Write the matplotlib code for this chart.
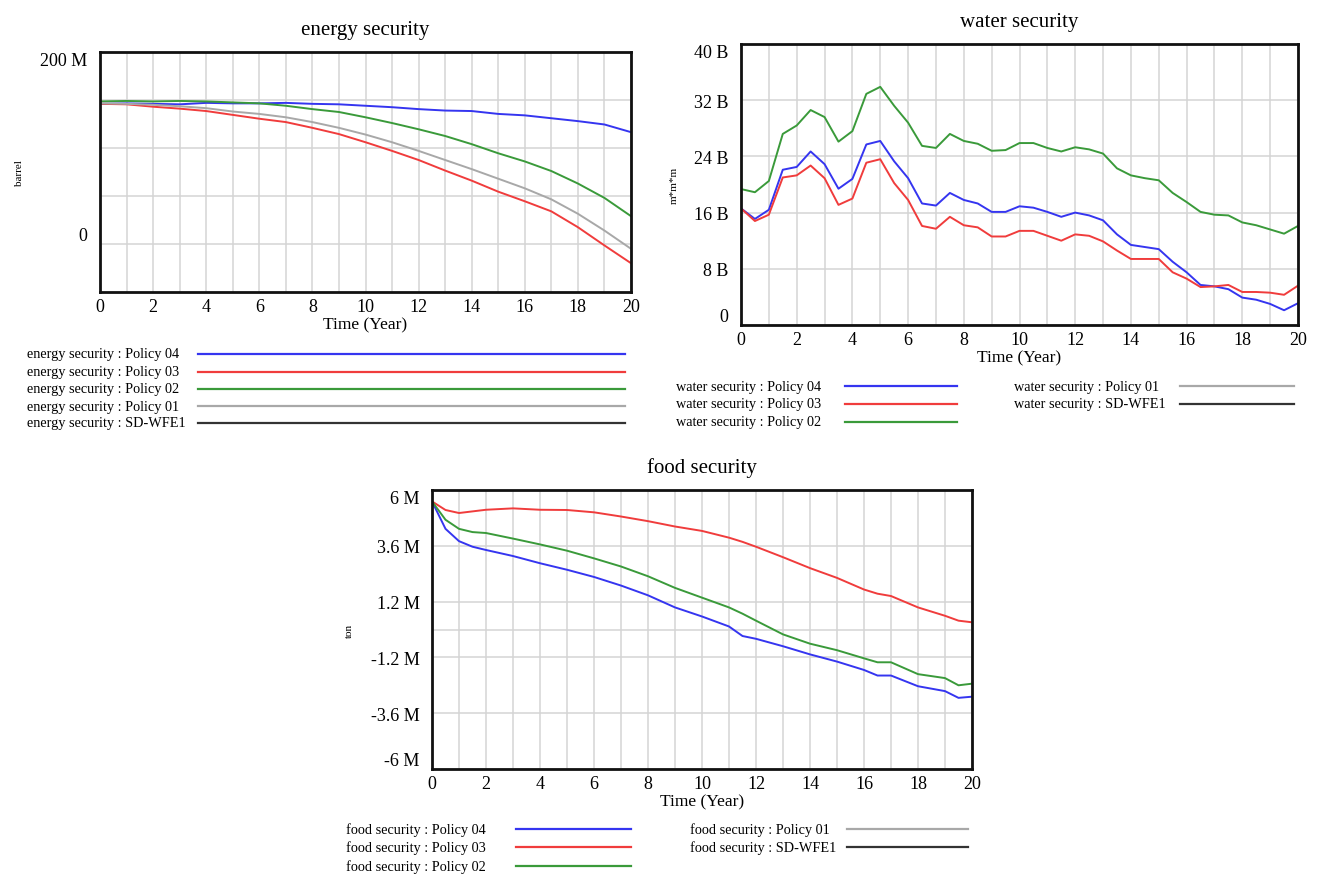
import matplotlib
matplotlib.use("Agg")
import matplotlib.pyplot as plt
from matplotlib.lines import Line2D

plt.rcParams["font.family"] = ["Liberation Serif", "DejaVu Serif"]

W, H = 1318, 878

# ---- data ----
years = list(range(21))

energy_p04 = [146, 146.5, 146, 145.5, 147, 146.5, 146.5, 147, 146, 145.5, 144,
              142.5, 140.5, 139, 138.5, 135.5, 134, 131, 128, 124.5, 116.5]
energy_p03 = [146, 145.5, 143, 141, 138.5, 134.5, 130.5, 127, 121, 114.5, 106,
              97, 87.5, 76.5, 66, 54.5, 44.5, 34, 17.5, -1.5, -20]
energy_p02 = [148.5, 149, 148.5, 149, 148.5, 147.5, 146.5, 144, 140.5, 137.5, 132,
              126, 119.5, 112.5, 104, 94.5, 86, 76, 63, 48, 29]
energy_p01 = [146.5, 146, 145, 143.5, 141.5, 138, 135.5, 132, 127, 121, 114,
              106, 97, 87.5, 78, 68, 58, 46.5, 31.5, 14, -5]

water_x = [i * 0.5 for i in range(41)]
water_p04 = [16.6, 15.1, 16.4, 22.1, 22.5, 24.7, 22.9, 19.4, 20.8, 25.7, 26.2,
             23.3, 20.9, 17.3, 17.0, 18.8, 17.8, 17.3, 16.1, 16.1, 16.9,
             16.7, 16.1, 15.4, 16.0, 15.6, 14.9, 12.9, 11.4, 11.1, 10.8,
             9.0, 7.5, 5.7, 5.5, 5.1, 3.9, 3.6, 3.0, 2.1, 3.1]
water_p03 = [16.6, 14.8, 15.7, 21.0, 21.3, 22.7, 20.9, 17.1, 18.0, 23.1, 23.6,
             20.2, 17.8, 14.1, 13.7, 15.4, 14.2, 13.9, 12.6, 12.6, 13.4,
             13.4, 12.7, 12.0, 12.9, 12.7, 11.9, 10.6, 9.4, 9.4, 9.4,
             7.5, 6.6, 5.4, 5.5, 5.7, 4.7, 4.7, 4.6, 4.3, 5.6]
water_p02 = [19.35, 18.9, 20.5, 27.2, 28.4, 30.6, 29.6, 26.1, 27.6, 32.9, 33.9,
             31.2, 28.8, 25.5, 25.2, 27.2, 26.2, 25.8, 24.8, 24.9, 25.9,
             25.9, 25.2, 24.7, 25.3, 25.0, 24.4, 22.3, 21.3, 20.9, 20.6,
             18.8, 17.5, 16.1, 15.7, 15.6, 14.6, 14.2, 13.6, 13.0, 14.1]

food_x = [0, 0.5, 1, 1.5, 2, 3, 4, 5, 6, 7, 8, 9, 10, 11, 11.5, 12, 13, 14, 15,
          16, 16.5, 17, 18, 19, 19.5, 20]
food_p04 = [5.51, 4.33, 3.80, 3.56, 3.42, 3.16, 2.85, 2.57, 2.26, 1.89, 1.47, 0.95,
            0.56, 0.13, -0.28, -0.40, -0.72, -1.07, -1.38, -1.74, -1.98, -1.98,
            -2.44, -2.65, -2.94, -2.89]
food_p03 = [5.51, 5.14, 5.01, 5.08, 5.15, 5.21, 5.15, 5.14, 5.04, 4.86, 4.66, 4.43,
            4.24, 3.95, 3.77, 3.56, 3.11, 2.64, 2.22, 1.72, 1.54, 1.44,
            0.95, 0.59, 0.38, 0.31]
food_p02 = [5.51, 4.72, 4.33, 4.19, 4.15, 3.91, 3.66, 3.39, 3.06, 2.71, 2.29, 1.79,
            1.37, 0.95, 0.68, 0.38, -0.21, -0.61, -0.89, -1.24, -1.41, -1.41,
            -1.92, -2.09, -2.40, -2.33]

series_names = ["Policy 04", "Policy 03", "Policy 02", "Policy 01", "SD-WFE1"]
colors = ["#3535f0", "#f03c3c", "#3a9a3a", "#a8a8a8", "#333333"]

energy_yticks = [0, 50, 100, 150, 200]
energy_ylabels = ["0", "", "", "", "200 M"]
water_yticks = [0, 8, 16, 24, 32, 40]
water_ylabels = ["0", "8 B", "16 B", "24 B", "32 B", "40 B"]
food_yticks = [-6, -3.6, -1.2, 0, 1.2, 3.6, 6]
food_ylabels = ["-6 M", "-3.6 M", "-1.2 M", "", "1.2 M", "3.6 M", "6 M"]


def px_axes(fig, left, top, right, bottom):
    return fig.add_axes([left / W, 1 - bottom / H, (right - left) / W, (bottom - top) / H])


def style(ax, ylim, yticks, ylabels, ylabel, ylpad):
    ax.set_xlim(0, 20)
    ax.set_ylim(*ylim)
    ax.set_xticks(years)
    ax.set_xticklabels([str(y) if y % 2 == 0 else "" for y in years], fontsize=13)
    ax.set_yticks(yticks)
    ax.set_yticklabels(ylabels, fontsize=13)
    ax.tick_params(axis="x", length=0, pad=4)
    ax.tick_params(axis="y", length=0, pad=9)
    ax.grid(True, color="#d4d4d4", linewidth=1.1)
    ax.set_axisbelow(True)
    for s in ax.spines.values():
        s.set_linewidth(2)
        s.set_color("#111111")
    labs = ax.get_yticklabels()
    labs[0].set_va("bottom")
    labs[-1].set_va("top")
    ax.set_xlabel("Time (Year)", fontsize=12.5, labelpad=1)
    ax.set_ylabel(ylabel, fontsize=8, labelpad=ylpad)


def legend(fig, prefix, idx, tx, lx0, lx1, y):
    fig.text(tx / W, 1 - y / H, prefix + " : " + series_names[idx], fontsize=10.3,
             ha="left", va="center")
    fig.add_artist(Line2D([lx0 / W, lx1 / W], [1 - y / H, 1 - y / H],
                          transform=fig.transFigure, color=colors[idx], linewidth=1.6))


fig = plt.figure(figsize=(W / 100, H / 100), dpi=100)

# energy
ax = px_axes(fig, 100, 53, 631, 293)
for ys, c in zip([energy_p04, energy_p03, energy_p02, energy_p01], colors):
    ax.plot(years, ys, color=c, linewidth=1.4)
style(ax, (-50, 200), energy_yticks, energy_ylabels, "barrel", 12)
ax.set_title("energy security", fontsize=15, pad=13)
for i, y in enumerate([355, 373, 390, 407, 424]):
    legend(fig, "energy security", i, 27, 198, 625, y)

# water
ax = px_axes(fig, 741, 45, 1298, 326)
for ys, c in zip([water_p04, water_p03, water_p02], colors):
    ax.plot(water_x, ys, color=c, linewidth=1.4)
style(ax, (0, 40), water_yticks, water_ylabels, "m*m*m", 11)
ax.set_title("water security", fontsize=15, pad=13)
for i, y in zip(range(3), [387, 405, 423]):
    legend(fig, "water security", i, 676, 845, 957, y)
for i, y in zip(range(3, 5), [387, 405]):
    legend(fig, "water security", i, 1014, 1180, 1294, y)

# food
ax = px_axes(fig, 432, 491, 972, 770)
for ys, c in zip([food_p04, food_p03, food_p02], colors):
    ax.plot(food_x, ys, color=c, linewidth=1.4)
style(ax, (-6, 6), food_yticks, food_ylabels, "ton", 12)
ax.set_title("food security", fontsize=15, pad=13)
for i, y in zip(range(3), [830, 848, 867]):
    legend(fig, "food security", i, 346, 516, 631, y)
for i, y in zip(range(3, 5), [830, 848]):
    legend(fig, "food security", i, 690, 847, 968, y)

fig.savefig("out.png", dpi=100)
